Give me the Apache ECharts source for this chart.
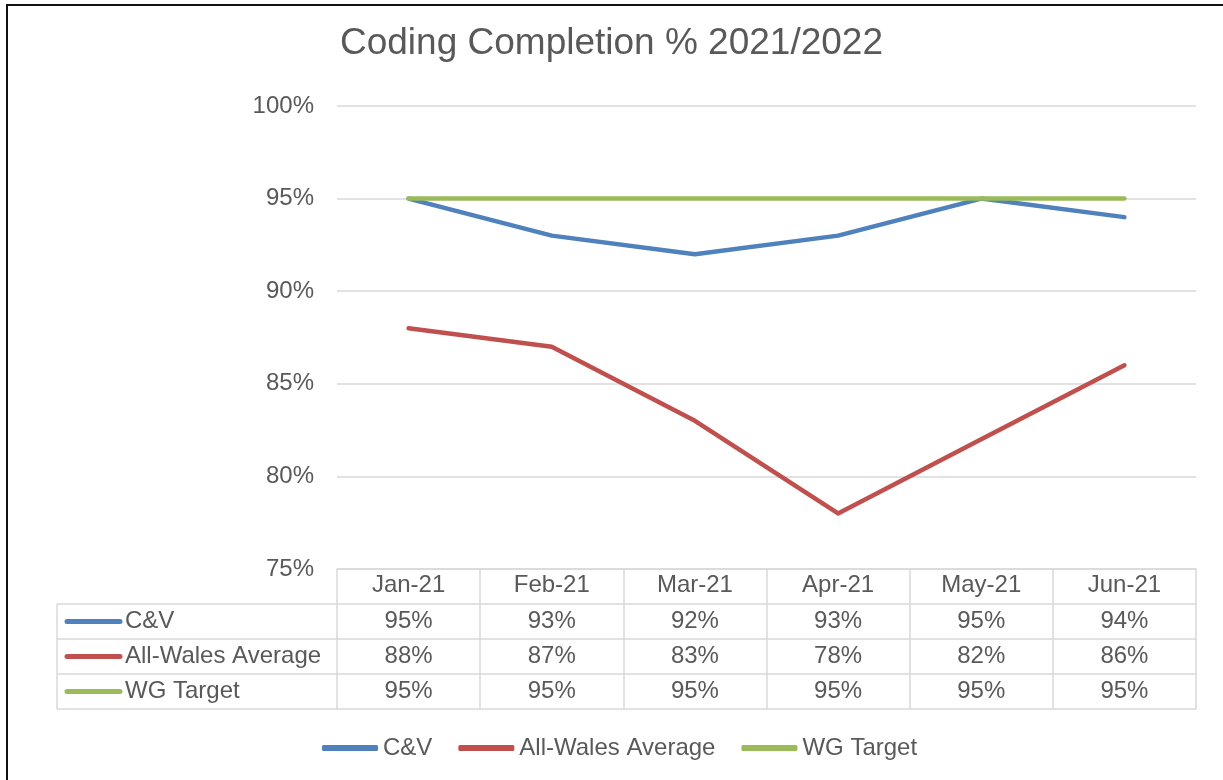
<!DOCTYPE html>
<html><head><meta charset="utf-8">
<script src="https://cdn.jsdelivr.net/npm/echarts@6/dist/echarts.min.js"></script>
<style>html,body{margin:0;padding:0;background:#fff}#c{width:1223px;height:780px}</style>
</head><body><div id="c"></div>
<script>
var categories = ['Jan-21','Feb-21','Mar-21','Apr-21','May-21','Jun-21'];
var seriesNames = ['C&V','All-Wales Average','WG Target'];
var cv = [95,93,92,93,95,94];
var wales = [88,87,83,78,82,86];
var target = [95,95,95,95,95,95];
var colors = ['#4F81BD','#C0504D','#9BBB59'];
var yTicks = {min:75, max:100, interval:5};

var rowsData = [cv, wales, target];
var FONT = 'Liberation Sans, Arial, sans-serif';
var TXT = '#595959';
var GRIDC = '#d9d9d9';
var ROW = 35;
var TABLE_TOP = 569;
var TABLE_LEFT = 57;
var PLOT_LEFT = 337;
var TFS = 24;

var chart = echarts.init(document.getElementById('c'));

var xAxes = [];
xAxes.push({
  type:'category', data:categories, position:'bottom', offset:0, gridIndex:0,
  boundaryGap:true,
  axisLine:{show:true, lineStyle:{color:GRIDC, width:1.5}},
  axisTick:{show:true, interval:0, length:ROW, lineStyle:{color:GRIDC, width:1.5}},
  axisLabel:{interval:0, color:TXT, fontSize:TFS, fontFamily:FONT, verticalAlign:'middle', margin:16}
});
rowsData.forEach(function(arr, r){
  xAxes.push({
    type:'category', data:categories, position:'bottom', offset:ROW*(r+1), gridIndex:0,
    boundaryGap:true,
    axisLine:{show:true, lineStyle:{color:GRIDC, width:1.5}},
    axisTick:{show:true, interval:0, length:ROW, lineStyle:{color:GRIDC, width:1.5}},
    axisLabel:{interval:0, color:TXT, fontSize:TFS, fontFamily:FONT, verticalAlign:'middle', margin:17,
      formatter:function(v, i){ return arr[i] + '%'; }}
  });
});
xAxes.push({
  type:'category', data:categories, position:'bottom', offset:ROW*4, gridIndex:0,
  boundaryGap:true,
  axisLine:{show:true, lineStyle:{color:GRIDC, width:1.5}},
  axisTick:{show:false}, axisLabel:{show:false}
});

var graphics = [
  {type:'line', shape:{x1:6, y1:5, x2:1223, y2:5}, style:{stroke:'#111', lineWidth:2}},
  {type:'line', shape:{x1:7, y1:4, x2:7, y2:780}, style:{stroke:'#111', lineWidth:2}},
  {type:'line', shape:{x1:TABLE_LEFT, y1:TABLE_TOP+ROW, x2:TABLE_LEFT, y2:TABLE_TOP+ROW*4}, style:{stroke:GRIDC, lineWidth:1.5}}
];
for (var k=1;k<=4;k++){
  graphics.push({type:'line', shape:{x1:TABLE_LEFT, y1:TABLE_TOP+ROW*k, x2:PLOT_LEFT, y2:TABLE_TOP+ROW*k}, style:{stroke:GRIDC, lineWidth:1.5}});
}
seriesNames.forEach(function(n, r){
  var cy = TABLE_TOP + ROW*(r+1) + ROW/2;
  graphics.push({type:'line', shape:{x1:67, y1:cy, x2:120, y2:cy}, style:{stroke:colors[r], lineWidth:5, lineCap:'round'}});
  graphics.push({type:'text', x:125, y:cy, style:{text:n, fill:TXT, font:TFS + 'px ' + FONT, textVerticalAlign:'middle', verticalAlign:'middle'}});
});

var series = seriesNames.map(function(n, r){
  return {name:n, type:'line', data:rowsData[r], xAxisIndex:0, yAxisIndex:0,
    symbol:'none', smooth:false, z:(r===2?15:10-r),
    lineStyle:{color:colors[r], width:4.5, cap:'round', join:'round'},
    itemStyle:{color:colors[r]}, emphasis:{disabled:true}};
});

chart.setOption({
  animation:false,
  backgroundColor:'#fff',
  title:{text:'Coding Completion % 2021/2022', left:'center', top:20,
    textStyle:{color:TXT, fontSize:37, fontWeight:'normal', fontFamily:FONT}},
  grid:{left:PLOT_LEFT, right:27, top:106, bottom:780-TABLE_TOP, containLabel:false},
  legend:{data:seriesNames, left:317, top:731, itemWidth:56, itemHeight:6, itemGap:26, icon:'roundRect',
    textStyle:{color:TXT, fontSize:24, fontFamily:FONT}},
  xAxis:xAxes,
  yAxis:{type:'value', min:yTicks.min, max:yTicks.max, interval:yTicks.interval,
    axisLine:{show:false}, axisTick:{show:false},
    axisLabel:{color:TXT, fontSize:24, fontFamily:FONT, margin:23, formatter:'{value}%'},
    splitLine:{lineStyle:{color:GRIDC, width:1.5}}},
  graphic:graphics,
  series:series
});
</script></body></html>
